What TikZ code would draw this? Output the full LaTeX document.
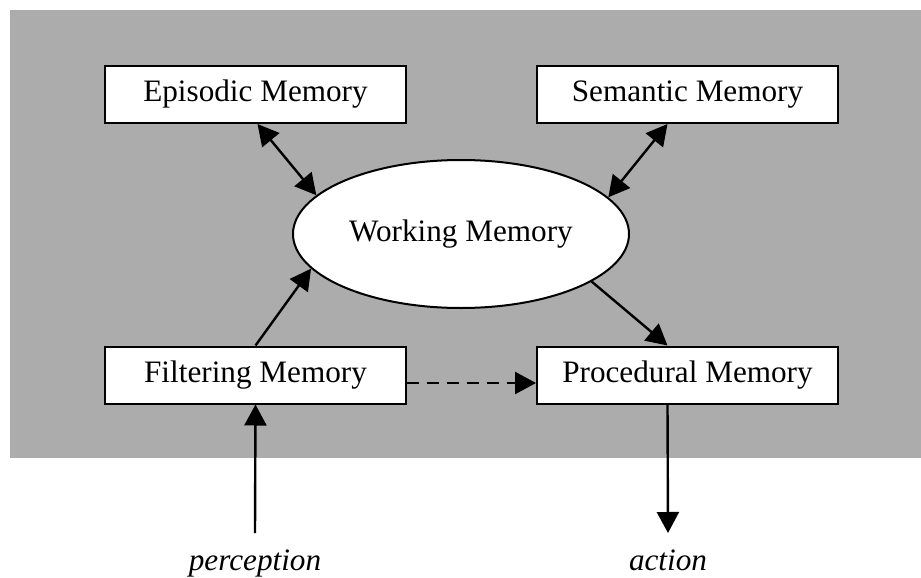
\documentclass[tikz,border=0pt]{standalone}
\usepackage{fontspec}
\setmainfont{Liberation Serif}
\usetikzlibrary{shapes.geometric,arrows.meta}
\definecolor{halftone}{RGB}{172,172,172}
\begin{document}
\begin{tikzpicture}[x=0.5pt,y=-0.5pt,
  every node/.style={font=\fontsize{15.6}{18}\selectfont},
  membox/.style={draw=black,line width=1pt,fill=white,minimum width=150.5pt,minimum height=28.5pt,inner sep=0pt},
  memell/.style={draw=black,line width=1pt,fill=white,ellipse,minimum width=168pt,minimum height=74pt,inner sep=0pt},
  conn/.style={line width=1.2pt,-{Triangle[length=10.5pt,width=11pt]}},
  biconn/.style={line width=1.2pt,{Triangle[length=10.5pt,width=11pt]}-{Triangle[length=10.5pt,width=11pt]}},
  lbl/.style={font=\fontsize{15.6}{18}\selectfont\itshape,inner sep=0pt}]
\useasboundingbox (0,0) rectangle (921,578);
\fill[halftone] (10,10) rectangle (921,458);
\node[membox] (ep) at (255.5,94.5) {Episodic Memory};
\node[membox] (sem) at (687.5,94.5) {Semantic Memory};
\node[memell] (wm) at (461,234) {Working Memory};
\node[membox] (fm) at (255.5,375) {Filtering Memory};
\node[membox] (pm) at (687.5,375) {Procedural Memory};
\node[lbl,anchor=base] (perc) at (255,570) {perception};
\node[lbl,anchor=base] (act) at (668,570) {action};
\coordinate (pin) at (255,533);
\coordinate (aout) at (668,533);
\draw[biconn] ([xshift=1pt]ep.south) -- (wm.165);
\draw[biconn] ([xshift=-10pt]sem.south) -- (wm.14);
\draw[conn] (fm.north) -- (wm.193);
\draw[conn] (wm.-20) -- ([xshift=-10pt]pm.north);
\draw[conn,dashed,dash pattern=on 6pt off 4pt] ([yshift=-4pt]fm.east) -- ([yshift=-4pt]pm.west);
\draw[conn] (pin) -- (fm.south);
\draw[conn] ([xshift=-10pt]pm.south) -- (aout);
\end{tikzpicture}
\end{document}
